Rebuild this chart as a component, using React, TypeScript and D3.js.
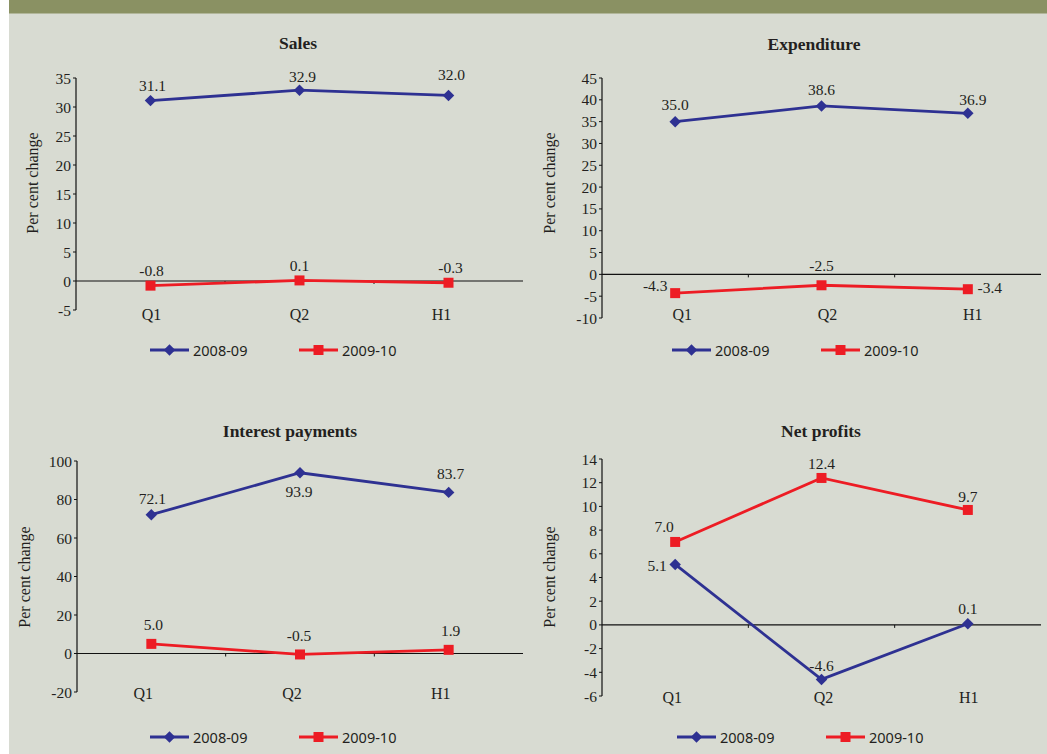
import React from "react";
import * as d3 from "d3";

const categories = ["Q1", "Q2", "H1"];
const seriesNames = ["2008-09", "2009-10"];

const salesA = [31.1, 32.9, 32.0];
const salesB = [-0.8, 0.1, -0.3];
const expA = [35.0, 38.6, 36.9];
const expB = [-4.3, -2.5, -3.4];
const intA = [72.1, 93.9, 83.7];
const intB = [5.0, -0.5, 1.9];
const netA = [5.1, -4.6, 0.1];
const netB = [7.0, 12.4, 9.7];

const salesTicks = [-5, 0, 5, 10, 15, 20, 25, 30, 35];
const expTicks = [-10, -5, 0, 5, 10, 15, 20, 25, 30, 35, 40, 45];
const intTicks = [-20, 0, 20, 40, 60, 80, 100];
const netTicks = [-6, -4, -2, 0, 2, 4, 6, 8, 10, 12, 14];

const BLUE = "#2e3192";
const RED = "#ed1c24";
const TEXT = "#231f20";
const SERIF = "'Liberation Serif', 'DejaVu Serif', serif";
const SANS = "'Noto Sans', 'Open Sans', sans-serif";

type Panel = {
  title: string;
  a: number[];
  b: number[];
  ticks: number[];
  left: number;
  right: number;
  top: number;
  bottom: number;
  titleX: number;
  titleY: number;
  ylabX: number;
  ylabY: number;
  catY: number;
  catDx: number[];
  legendX: number;
  legendY: number;
  labA: [number, number][];
  labB: [number, number][];
};

const panels: Panel[] = [
  {
    title: "Sales", a: salesA, b: salesB, ticks: salesTicks,
    left: 76, right: 523, top: 78, bottom: 310,
    titleX: 298, titleY: 43, ylabX: 32, ylabY: 183, catY: 314, catDx: [1, 0, -7],
    legendX: 150, legendY: 350,
    labA: [[2, -15], [3, -14], [3, -21]],
    labB: [[1, -15], [0, -15], [2, -15]],
  },
  {
    title: "Expenditure", a: expA, b: expB, ticks: expTicks,
    left: 602, right: 1041, top: 78, bottom: 318,
    titleX: 814, titleY: 44, ylabX: 549, ylabY: 183, catY: 314, catDx: [7, 6, 5],
    legendX: 672, legendY: 350,
    labA: [[0, -17], [0, -16], [5, -14]],
    labB: [[-20, -8], [0, -20], [22, -2]],
  },
  {
    title: "Interest payments", a: intA, b: intB, ticks: intTicks,
    left: 77, right: 523, top: 461, bottom: 692,
    titleX: 290, titleY: 431, ylabX: 24, ylabY: 577, catY: 693, catDx: [-8, -8, -8],
    legendX: 150, legendY: 737,
    labA: [[1, -16], [-1, 19], [2, -19]],
    labB: [[2, -19], [-1, -19], [2, -19]],
  },
  {
    title: "Net profits", a: netA, b: netB, ticks: netTicks,
    left: 602, right: 1041, top: 459, bottom: 696,
    titleX: 821, titleY: 431, ylabX: 549, ylabY: 577, catY: 697, catDx: [-3, 2, 1],
    legendX: 677, legendY: 737,
    labA: [[-18, 1], [0, -14], [0, -15]],
    labB: [[-11, -15], [0, -14], [0, -13]],
  },
];

const diamond = d3.symbol().type(d3.symbolDiamond2).size(84);
const square = d3.symbol().type(d3.symbolSquare).size(100);

function ChartPanel({ p }: { p: Panel }) {
  const x = d3.scaleBand<string>().domain(categories).range([p.left, p.right]);
  const y = d3
    .scaleLinear()
    .domain([p.ticks[0], p.ticks[p.ticks.length - 1]])
    .range([p.bottom, p.top]);
  const cx = (c: string) => (x(c) as number) + x.bandwidth() / 2;
  const line = d3
    .line<number>()
    .x((_, i) => cx(categories[i]))
    .y((v) => y(v));
  const y0 = y(0);
  const series = [
    { vals: p.a, color: BLUE, sym: diamond, lab: p.labA },
    { vals: p.b, color: RED, sym: square, lab: p.labB },
  ];
  return (
    <g>
      <text x={p.titleX} y={p.titleY} textAnchor="middle" dominantBaseline="central"
        fontFamily={SERIF} fontWeight="bold" fontSize={17.5} fill={TEXT}>{p.title}</text>
      <text transform={`translate(${p.ylabX},${p.ylabY}) rotate(-90)`} textAnchor="middle"
        dominantBaseline="central" fontFamily={SERIF} fontSize={16} fill={TEXT}>Per cent change</text>
      {/* y axis */}
      <line x1={p.left} x2={p.left} y1={y(p.ticks[0])} y2={y(p.ticks[p.ticks.length - 1])}
        stroke="#111" strokeWidth={1.2} />
      {p.ticks.map((t) => (
        <g key={t}>
          <line x1={p.left - 3} x2={p.left} y1={y(t)} y2={y(t)} stroke="#111" strokeWidth={1} />
          <text x={p.left - 5} y={y(t)} textAnchor="end" dominantBaseline="central"
            fontFamily={SERIF} fontSize={15.5} fill={TEXT}>{t}</text>
        </g>
      ))}
      {/* zero line */}
      <line x1={p.left} x2={p.right} y1={y0} y2={y0} stroke="#111" strokeWidth={1.2} />
      {categories.slice(1).map((c) => (
        <line key={c} x1={x(c) as number} x2={x(c) as number} y1={y0} y2={y0 + 3}
          stroke="#111" strokeWidth={1} />
      ))}
      {categories.map((c, i) => (
        <text key={c} x={cx(c) + p.catDx[i]} y={p.catY} textAnchor="middle" dominantBaseline="central"
          fontFamily={SERIF} fontSize={16} fill={TEXT}>{c}</text>
      ))}
      {series.map((s, si) => (
        <g key={si}>
          <path d={line(s.vals) as string} fill="none" stroke={s.color} strokeWidth={2.8} />
          {s.vals.map((v, i) => (
            <path key={i} d={s.sym() as string}
              transform={`translate(${cx(categories[i])},${y(v)})`} fill={s.color} />
          ))}
          {s.vals.map((v, i) => (
            <text key={"l" + i} x={cx(categories[i]) + s.lab[i][0]} y={y(v) + s.lab[i][1]}
              textAnchor="middle" dominantBaseline="central" fontFamily={SERIF} fontSize={15.5}
              fill={TEXT}>{v.toFixed(1)}</text>
          ))}
        </g>
      ))}
      {/* legend */}
      {series.map((s, si) => {
        const lx = p.legendX + si * 149;
        return (
          <g key={"lg" + si}>
            <line x1={lx} x2={lx + 39} y1={p.legendY} y2={p.legendY} stroke={s.color} strokeWidth={2.8} />
            <path d={s.sym() as string} transform={`translate(${lx + 19.5},${p.legendY})`} fill={s.color} />
            <text x={lx + 43} y={p.legendY} dominantBaseline="central" fontFamily={SANS}
              fontSize={14.5} fill={TEXT}>{seriesNames[si]}</text>
          </g>
        );
      })}
    </g>
  );
}

export default function App() {
  return (
    <svg width={1047} height={754} style={{ position: "absolute", left: 0, top: 0, display: "block" }}>
      <rect x={0} y={0} width={1047} height={754} fill="#ffffff" />
      <rect x={9} y={0} width={1038} height={754} fill="#d8dbd2" />
      <rect x={9} y={0} width={1038} height={13.5} fill="#8a9163" />
      {panels.map((p) => (
        <ChartPanel key={p.title} p={p} />
      ))}
    </svg>
  );
}
